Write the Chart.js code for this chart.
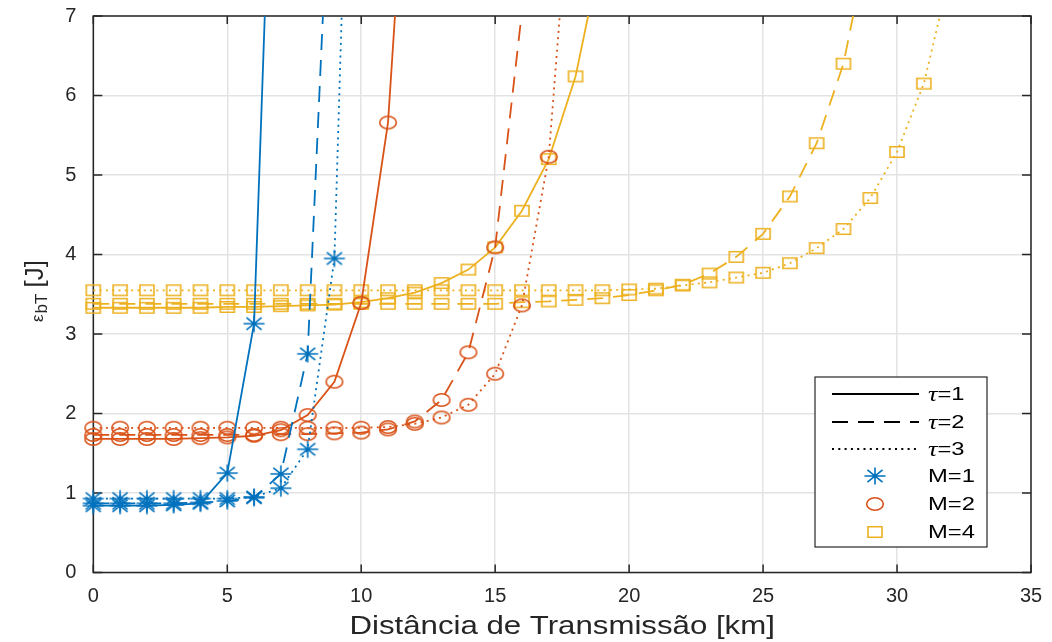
<!DOCTYPE html>
<html><head><meta charset="utf-8">
<script src="https://cdn.jsdelivr.net/npm/chart.js@4/dist/chart.umd.min.js"></script>
<style>html,body{margin:0;padding:0;background:#fff;}canvas{display:block;}</style>
</head><body>
<canvas id="c" width="1052" height="642"></canvas>
<script>
// ---- data ----
const xTicks = [0, 5, 10, 15, 20, 25, 30, 35];
const yTicks = [0, 1, 2, 3, 4, 5, 6, 7];
const xTitle = 'Distância de Transmissão [km]';
const tauLabels = ['=1', '=2', '=3'];
const mLabels = ['M=1', 'M=2', 'M=4'];

// values at distance 0,1,2,... km
const m1t1 = [0.84, 0.84, 0.84, 0.85, 0.87, 1.25, 3.13];
const m1t2 = [0.87, 0.87, 0.87, 0.87, 0.88, 0.90, 0.94, 1.24, 2.75];
const m1t3 = [0.93, 0.93, 0.93, 0.93, 0.93, 0.93, 0.95, 1.06, 1.55, 3.95];
const m2t1 = [1.68, 1.68, 1.68, 1.68, 1.69, 1.70, 1.72, 1.79, 1.98, 2.40, 3.39, 5.66];
const m2t2 = [1.73, 1.73, 1.73, 1.73, 1.73, 1.73, 1.73, 1.74, 1.74, 1.75, 1.76, 1.80, 1.90, 2.17, 2.77, 4.09];
const m2t3 = [1.82, 1.82, 1.82, 1.82, 1.82, 1.82, 1.82, 1.82, 1.82, 1.82, 1.82, 1.83, 1.87, 1.95, 2.11, 2.50, 3.36, 5.23];
const m4t1 = [3.33, 3.33, 3.33, 3.33, 3.33, 3.34, 3.34, 3.35, 3.36, 3.37, 3.40, 3.45, 3.52, 3.64, 3.81, 4.09, 4.55, 5.20, 6.24];
const m4t2 = [3.38, 3.38, 3.38, 3.38, 3.38, 3.38, 3.38, 3.38, 3.38, 3.38, 3.38, 3.38, 3.38, 3.38, 3.38, 3.38, 3.40, 3.41, 3.43, 3.45, 3.49, 3.55, 3.62, 3.76, 3.97, 4.26, 4.73, 5.40, 6.40];
const m4t3 = [3.55, 3.55, 3.55, 3.55, 3.55, 3.55, 3.55, 3.55, 3.55, 3.55, 3.55, 3.55, 3.55, 3.55, 3.55, 3.55, 3.55, 3.55, 3.55, 3.55, 3.56, 3.57, 3.61, 3.65, 3.71, 3.77, 3.89, 4.08, 4.32, 4.71, 5.29, 6.15];
// distance where each curve leaves the top of the plot (value 7)
const exitX = [6.4, 8.57, 9.27, 11.26, 15.98, 17.41, 18.47, 28.36, 31.6];
const yTop = 7;

// ---- styles ----
const seriesVals = [m1t1, m1t2, m1t3, m2t1, m2t2, m2t3, m4t1, m4t2, m4t3];
const colors = ['#0072BD', '#D95319', '#EDB120'];
const markerKinds = ['star', 'circle', 'square'];
const dashes = [[], [16, 10], [2, 4.3]];
const FONT = "'Liberation Sans', Arial, sans-serif";

function markerCanvas(kind, color) {
  const c = document.createElement('canvas');
  c.width = 26; c.height = 22;
  const g = c.getContext('2d');
  g.strokeStyle = color; g.lineWidth = 1.6;
  const cx = 13, cy = 11;
  g.beginPath();
  if (kind === 'star') {
    const rx = 10.5, ry = 8.5, dx = rx * 0.72, dy = ry * 0.72;
    g.moveTo(cx - rx, cy); g.lineTo(cx + rx, cy);
    g.moveTo(cx, cy - ry); g.lineTo(cx, cy + ry);
    g.moveTo(cx - dx, cy - dy); g.lineTo(cx + dx, cy + dy);
    g.moveTo(cx - dx, cy + dy); g.lineTo(cx + dx, cy - dy);
  } else if (kind === 'circle') {
    g.ellipse(cx, cy, 8.3, 6.3, 0, 0, Math.PI * 2);
  } else {
    g.rect(cx - 7, cy - 5.3, 14, 10.6);
  }
  g.stroke();
  return c;
}
const markers = markerKinds.map((k, i) => markerCanvas(k, colors[i]));

const datasets = seriesVals.map((vals, s) => {
  const m = Math.floor(s / 3), t = s % 3;
  const data = vals.map((v, i) => ({x: i, y: v}));
  data.push({x: exitX[s], y: yTop});
  return {
    data,
    borderColor: colors[m],
    backgroundColor: 'transparent',
    borderWidth: 1.8,
    borderDash: dashes[t],
    borderCapStyle: 'butt',
    tension: 0,
    pointStyle: markers[m],
    pointRadius: ctx => (ctx.dataIndex < vals.length ? 5 : 0),
    clip: false,
    fill: false
  };
});

const decor = {
  id: 'decor',
  beforeDatasetsDraw(chart) {
    const {ctx, chartArea: a, scales} = chart;
    ctx.save();
    ctx.strokeStyle = '#262626';
    ctx.lineWidth = 1.5;
    ctx.strokeRect(a.left, a.top, a.right - a.left, a.bottom - a.top);
    ctx.beginPath();
    xTicks.forEach(v => {
      const x = scales.x.getPixelForValue(v);
      ctx.moveTo(x, a.bottom); ctx.lineTo(x, a.bottom - 8);
      ctx.moveTo(x, a.top); ctx.lineTo(x, a.top + 8);
    });
    yTicks.forEach(v => {
      const y = scales.y.getPixelForValue(v);
      ctx.moveTo(a.left, y); ctx.lineTo(a.left + 9, y);
      ctx.moveTo(a.right, y); ctx.lineTo(a.right - 9, y);
    });
    ctx.stroke();
    ctx.restore();
  },
  afterDraw(chart) {
    const {ctx, chartArea: a} = chart;
    ctx.save();
    ctx.fillStyle = '#262626';
    // x title
    ctx.textBaseline = 'middle';
    ctx.textAlign = 'center';
    ctx.save();
    ctx.translate((a.left + a.right) / 2, 627);
    ctx.scale(1.2, 1);
    ctx.font = '26px ' + FONT;
    ctx.fillText(xTitle, 0, 0);
    ctx.restore();
    // y title: epsilon_bT [J], rotated
    ctx.save();
    ctx.translate(42.5, 322);
    ctx.rotate(-Math.PI / 2);
    ctx.textAlign = 'left';
    ctx.textBaseline = 'alphabetic';
    let px = 0;
    ctx.font = '17px ' + FONT;
    ctx.fillText('\u03B5', px, 0); px += ctx.measureText('\u03B5').width + 1;
    ctx.font = '17px ' + FONT;
    ctx.fillText('bT', px, 4.5); px += ctx.measureText('bT').width + 6;
    ctx.font = '26px ' + FONT;
    ctx.fillText('[J]', px, 0);
    ctx.restore();

    // legend
    const bx = a.right - 216, by = a.bottom - 195.5, bw = 172, bh = 170;
    ctx.fillStyle = '#fff';
    ctx.fillRect(bx, by, bw, bh);
    ctx.strokeStyle = '#262626';
    ctx.lineWidth = 1.2;
    ctx.strokeRect(bx, by, bw, bh);
    const rows = [17, 45, 72, 99, 127, 155];
    ctx.textBaseline = 'middle';
    ctx.textAlign = 'left';
    for (let t = 0; t < 3; t++) {
      const y = by + rows[t];
      ctx.save();
      ctx.strokeStyle = '#000';
      ctx.lineWidth = 1.8;
      ctx.setLineDash(dashes[t]);
      ctx.beginPath(); ctx.moveTo(bx + 17, y); ctx.lineTo(bx + 104, y); ctx.stroke();
      ctx.restore();
      ctx.save();
      ctx.fillStyle = '#000';
      ctx.translate(bx + 113, y + 1);
      ctx.scale(1.25, 1);
      ctx.font = "italic 21px 'Liberation Serif', serif";
      ctx.fillText('\u03C4', 0, 0);
      const w = ctx.measureText('\u03C4').width;
      ctx.font = '19px ' + FONT;
      ctx.fillText(tauLabels[t], w, 0);
      ctx.restore();
    }
    for (let m = 0; m < 3; m++) {
      const y = by + rows[3 + m];
      ctx.drawImage(markers[m], bx + 60 - 13, y - 11);
      ctx.save();
      ctx.fillStyle = '#000';
      ctx.translate(bx + 113, y + 1);
      ctx.scale(1.25, 1);
      ctx.font = '19px ' + FONT;
      ctx.fillText(mLabels[m], 0, 0);
      ctx.restore();
    }
    ctx.restore();
  }
};

new Chart(document.getElementById('c'), {
  type: 'line',
  data: {datasets},
  options: {
    responsive: false,
    animation: false,
    devicePixelRatio: 1,
    events: [],
    layout: {padding: {top: 16, right: 21, left: 0, bottom: 0}},
    plugins: {legend: {display: false}, tooltip: {enabled: false}},
    scales: {
      x: {
        type: 'linear', min: 0, max: 35,
        afterBuildTicks: s => { s.ticks = xTicks.map(v => ({value: v})); },
        afterFit: s => { s.height = 69.5; s.paddingLeft = 0; s.paddingRight = 0; },
        grid: {color: '#e3e3e3', lineWidth: 1.5, drawTicks: false},
        border: {display: false},
        ticks: {padding: 12, color: '#262626', font: {family: FONT, size: 20}, maxRotation: 0}
      },
      y: {
        type: 'linear', min: 0, max: 7,
        afterBuildTicks: s => { s.ticks = yTicks.map(v => ({value: v})); },
        afterFit: s => { s.width = 93.3; s.paddingTop = 0; s.paddingBottom = 0; },
        grid: {color: '#e3e3e3', lineWidth: 1.5, drawTicks: false},
        border: {display: false},
        ticks: {padding: 17, color: '#262626', font: {family: FONT, size: 20}}
      }
    }
  },
  plugins: [decor]
});
</script>
</body></html>
